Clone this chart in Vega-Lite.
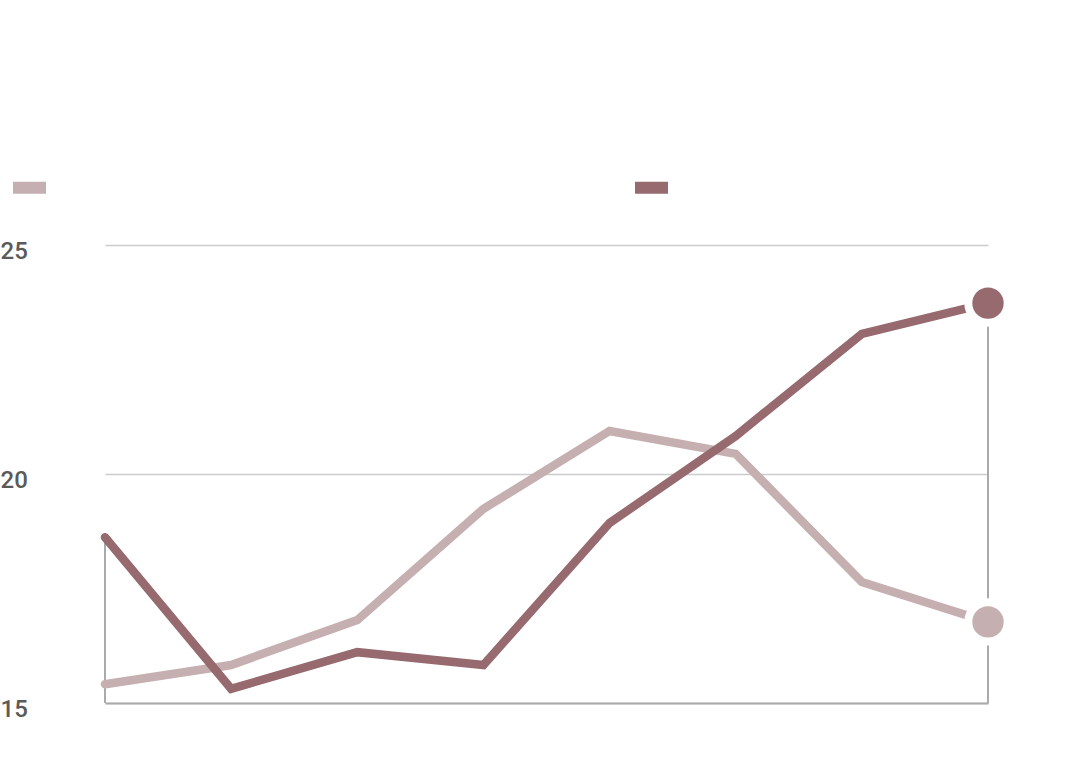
{
  "$schema": "https://vega.github.io/schema/vega-lite/v6.json",
  "width": 883,
  "height": 458,
  "autosize": {"type": "none"},
  "padding": {"left": 105, "top": 245, "right": 104, "bottom": 55},
  "background": "white",
  "config": {"view": {"stroke": null}, "font": "Roboto"},
  "data": {"values": [
    {"x": 0, "series": "Series 1", "value": 15.41},
    {"x": 1, "series": "Series 1", "value": 15.83},
    {"x": 2, "series": "Series 1", "value": 16.81},
    {"x": 3, "series": "Series 1", "value": 19.24},
    {"x": 4, "series": "Series 1", "value": 20.94},
    {"x": 5, "series": "Series 1", "value": 20.44},
    {"x": 6, "series": "Series 1", "value": 17.64},
    {"x": 7, "series": "Series 1", "value": 16.77},
    {"x": 0, "series": "Series 2", "value": 18.62},
    {"x": 1, "series": "Series 2", "value": 15.31},
    {"x": 2, "series": "Series 2", "value": 16.11},
    {"x": 3, "series": "Series 2", "value": 15.83},
    {"x": 4, "series": "Series 2", "value": 18.93},
    {"x": 5, "series": "Series 2", "value": 20.83},
    {"x": 6, "series": "Series 2", "value": 23.06},
    {"x": 7, "series": "Series 2", "value": 23.73}
  ]},
  "layer": [
    {
      "transform": [
        {"aggregate": [{"op": "max", "field": "value", "as": "top"}], "groupby": ["x"]},
        {"filter": "datum.x === 0 || datum.x === 7"}
      ],
      "mark": {"type": "rule", "color": "#aaaaaa", "strokeWidth": 2},
      "encoding": {
        "x": {"field": "x", "type": "quantitative"},
        "y": {"field": "top", "type": "quantitative"},
        "y2": {"datum": 15}
      }
    },
    {
      "mark": {"type": "line", "strokeWidth": 8.5, "strokeCap": "round", "strokeJoin": "miter"},
      "encoding": {
        "x": {"field": "x", "type": "quantitative", "scale": {"domain": [0, 7], "nice": false},
          "axis": {"title": null, "labels": false, "ticks": false, "grid": false, "domain": true, "domainColor": "#aaaaaa", "domainWidth": 2}},
        "y": {"field": "value", "type": "quantitative", "scale": {"domain": [15, 25], "nice": false, "zero": false},
          "axis": {"title": null, "values": [15, 20, 25], "ticks": false, "domain": false, "grid": true,
            "gridColor": "#cccccc", "gridWidth": 1.5,
            "labelAlign": "left", "labelBaseline": "middle", "labelPadding": 105, "labelOffset": 6,
            "labelFontSize": 24, "labelFontWeight": 500, "labelColor": "#5a5a5a", "labelFont": "Roboto"}},
        "color": {"field": "series", "type": "nominal",
          "scale": {"range": ["#c5afb0", "#966a6e"]},
          "legend": {"title": null, "orient": "none", "direction": "horizontal", "legendX": -98, "legendY": -80,
            "padding": 0, "labelExpr": "''", "labelOffset": 0, "columnPadding": 541,
            "symbolType": "M-1,0H1", "symbolSize": 1089, "symbolStrokeWidth": 12}}
      }
    },
    {
      "transform": [{"filter": "datum.x === 7"}],
      "mark": {"type": "point", "filled": true, "size": 1550, "stroke": "white", "strokeWidth": 8, "strokeOpacity": 1, "opacity": 1},
      "encoding": {
        "x": {"field": "x", "type": "quantitative"},
        "y": {"field": "value", "type": "quantitative"},
        "fill": {"field": "series", "type": "nominal", "scale": {"range": ["#c5afb0", "#966a6e"]}, "legend": null}
      }
    }
  ]
}
